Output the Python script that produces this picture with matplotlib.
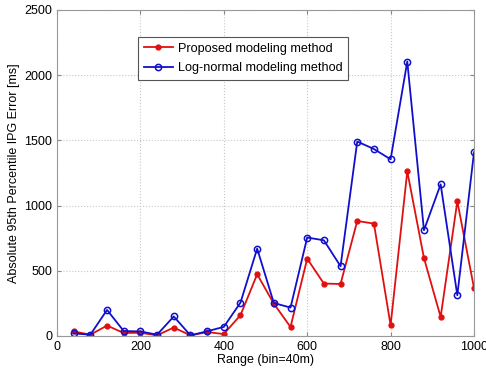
import matplotlib
matplotlib.use("Agg")
import matplotlib.pyplot as plt

plt.rcParams['font.family'] = ['Liberation Sans', 'DejaVu Sans']

# range bins (m)
ranges = [40, 80, 120, 160, 200, 240, 280, 320, 360, 400, 440, 480, 520,
          560, 600, 640, 680, 720, 760, 800, 840, 880, 920, 960, 1000]

# absolute 95th percentile IPG error [ms]
proposed = [35, 10, 80, 23, 25, 5, 65, 5, 30, 15, 160, 473, 248,
            69, 593, 402, 399, 882, 862, 82, 1263, 598, 146, 1033, 368]
lognormal = [20, 10, 200, 38, 35, 10, 150, 5, 36, 70, 256, 670, 253,
             218, 755, 734, 535, 1491, 1434, 1355, 2105, 811, 1163, 312, 1409]

fig = plt.figure(figsize=(4.86, 3.71), dpi=100)
ax = fig.add_axes([57 / 486, 1 - 336 / 371, 417 / 486, 326 / 371])

ax.plot(ranges, proposed, color='#e01010', linewidth=1.3, marker='.',
        markersize=7, label='Proposed modeling method')
ax.plot(ranges, lognormal, color='#1010cc', linewidth=1.3, marker='o',
        markersize=4.5, markerfacecolor='none', markeredgewidth=1.1,
        label='Log-normal modeling method')

ax.set_xlim(0, 1000)
ax.set_ylim(0, 2500)
ax.set_xticks(range(0, 1001, 200))
ax.set_yticks(range(0, 2501, 500))
ax.grid(True, linestyle=':', color='#c8c8c8', linewidth=0.8)
ax.tick_params(direction='in', top=True, right=True, labelsize=9,
               length=3, color='#888888')
for s in ax.spines.values():
    s.set_color('#999999')

ax.set_xlabel('Range (bin=40m)', fontsize=9, labelpad=1)
ax.set_ylabel('Absolute 95th Percentile IPG Error [ms]', fontsize=9, labelpad=3)

leg = ax.legend(loc='upper left', bbox_to_anchor=(0.194, 0.917), fontsize=9.1,
                fancybox=False, framealpha=1, edgecolor='#555555',
                handlelength=2.3, borderpad=0.45, labelspacing=0.6,
                borderaxespad=0, handletextpad=0.4)
leg.get_frame().set_linewidth(0.8)

fig.savefig('out.png', dpi=100)
